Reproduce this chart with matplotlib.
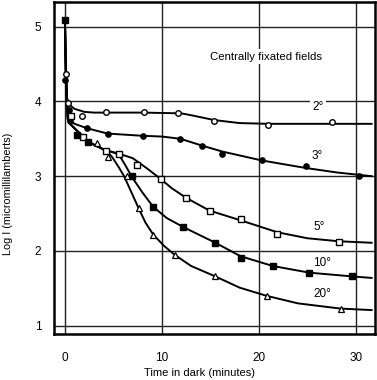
import matplotlib
matplotlib.use('Agg')
import matplotlib.pyplot as plt

plt.rcParams['font.family'] = ['Liberation Sans', 'DejaVu Sans']

x_2 = [0.1, 0.3, 1.8, 4.2, 8.1, 11.7, 15.4, 20.9, 27.5]
y_2 = [4.37, 3.98, 3.80, 3.86, 3.86, 3.84, 3.74, 3.69, 3.72]
x_3 = [0.0, 0.4, 0.5, 2.3, 4.4, 8.0, 11.9, 14.1, 16.2, 20.3, 24.8, 30.3]
y_3 = [4.29, 3.88, 3.74, 3.65, 3.56, 3.54, 3.50, 3.40, 3.30, 3.21, 3.13, 3.00]
x_5 = [0.6, 1.9, 4.2, 5.6, 7.4, 9.9, 12.5, 14.9, 18.1, 21.9, 28.2]
y_5 = [3.81, 3.53, 3.34, 3.30, 3.15, 2.96, 2.71, 2.53, 2.43, 2.23, 2.12]
x_10 = [0.0, 1.2, 2.4, 6.9, 9.1, 12.2, 15.5, 18.1, 21.4, 25.2, 29.6]
y_10 = [5.09, 3.55, 3.46, 3.00, 2.59, 2.32, 2.11, 1.90, 1.80, 1.70, 1.67]
x_20 = [3.3, 4.4, 6.4, 7.6, 9.1, 11.3, 15.5, 20.8, 28.4]
y_20 = [3.44, 3.26, 3.00, 2.57, 2.22, 1.95, 1.66, 1.40, 1.23]

# hand-drawn curves
cx_2 = [0, 0.1, 0.2, 0.5, 1, 2, 3, 5, 8, 12, 13.2, 15.4, 18, 21, 25, 31.6]
cy_2 = [5.1, 4.4, 4.05, 3.95, 3.9, 3.86, 3.85, 3.85, 3.85, 3.84, 3.81, 3.75, 3.71, 3.70, 3.70, 3.70]
cx_3 = [0, 0.1, 0.2, 0.3, 0.6, 1, 2.3, 4.4, 8, 10, 11.9, 14.1, 16.2, 20.3, 24.8, 28, 31.6]
cy_3 = [5.1, 4.4, 4.05, 3.8, 3.74, 3.7, 3.64, 3.57, 3.54, 3.53, 3.50, 3.41, 3.33, 3.21, 3.11, 3.05, 3.00]
cx_5 = [0, 0.1, 0.2, 0.3, 0.6, 1, 2.4, 4.1, 5.6, 7.0, 8.5, 9.8, 11, 12.5, 14.9, 18.1, 21.9, 25, 28.2, 31.6]
cy_5 = [5.1, 4.4, 4.05, 3.76, 3.69, 3.64, 3.46, 3.35, 3.30, 3.24, 3.10, 2.97, 2.84, 2.71, 2.54, 2.41, 2.25, 2.17, 2.13, 2.11]
cx_10 = [0, 0.1, 0.2, 0.3, 0.6, 1, 2.4, 4.1, 5.2, 5.7, 6.3, 6.9, 8, 9.1, 10.5, 12.2, 15.5, 18.1, 21.4, 25.2, 29.6, 31.6]
cy_10 = [5.1, 4.4, 4.05, 3.76, 3.69, 3.64, 3.46, 3.35, 3.31, 3.26, 3.13, 2.99, 2.78, 2.59, 2.44, 2.32, 2.11, 1.93, 1.80, 1.71, 1.66, 1.64]
cx_20 = [0, 0.1, 0.2, 0.3, 0.6, 1, 2.4, 4.1, 4.5, 4.9, 5.5, 6.1, 6.8, 7.6, 8.3, 9.1, 10.2, 11.3, 13, 15.5, 18, 20.8, 24, 28.4, 31.6]
cy_20 = [5.1, 4.4, 4.05, 3.76, 3.69, 3.64, 3.46, 3.35, 3.31, 3.25, 3.13, 3.00, 2.80, 2.57, 2.38, 2.22, 2.07, 1.95, 1.80, 1.66, 1.51, 1.40, 1.30, 1.23, 1.21]

labels = ['2°', '3°', '5°', '10°', '20°']
label_x = [26.1, 26.0, 26.2, 26.5, 26.5]
label_y = [3.93, 3.27, 2.32, 1.84, 1.43]

fig = plt.figure(figsize=(3.77, 3.80), dpi=100)
ax = fig.add_axes([0.143, 0.121, 0.852, 0.874])

for v in [0, 10, 20, 30]:
    ax.axvline(v, color='#222222', lw=1.0, zorder=1)
for h in [1, 2, 3, 4, 5]:
    ax.axhline(h, color='#222222', lw=1.0, zorder=1)

for cx, cy in [(cx_2, cy_2), (cx_3, cy_3), (cx_5, cy_5), (cx_10, cy_10), (cx_20, cy_20)]:
    ax.plot(cx, cy, color='black', lw=1.4, zorder=3)

ax.plot(x_2, y_2, 'o', ms=4, mfc='white', mec='black', mew=1, zorder=4)
ax.plot(x_3, y_3, 'o', ms=3.8, mfc='black', mec='black', zorder=4)
ax.plot(x_5, y_5, 's', ms=4, mfc='white', mec='black', mew=1, zorder=4)
ax.plot(x_10, y_10, 's', ms=3.8, mfc='black', mec='black', zorder=4)
ax.plot(x_20, y_20, '^', ms=4.5, mfc='white', mec='black', mew=0.9, zorder=4)

box = dict(facecolor='white', edgecolor='none', pad=1.5)
for lab, lx, ly in zip(labels, label_x, label_y):
    ax.text(lx, ly, lab, fontsize=8.5, ha='center', va='center', bbox=box, zorder=2)
ax.text(20.7, 4.6, 'Centrally fixated fields', fontsize=8.2, ha='center', va='center',
        bbox=box, zorder=2)

ax.set_xlim(-1.13, 31.96)
ax.set_ylim(0.89, 5.33)
ax.set_xticks([0, 10, 20, 30])
ax.set_yticks([1, 2, 3, 4, 5])
ax.tick_params(length=0, labelsize=8.5)
ax.tick_params(axis='x', pad=13)
ax.tick_params(axis='y', pad=9)
for s in ax.spines.values():
    s.set_linewidth(1.8)

fig.text(0.53, 0.018, 'Time in dark (minutes)', fontsize=8, ha='center', va='center')
fig.text(0.02, 0.49, 'Log I (micromillilamberts)', fontsize=7.8, ha='center', va='center',
         rotation=90)

plt.savefig('out.png', dpi=100)
